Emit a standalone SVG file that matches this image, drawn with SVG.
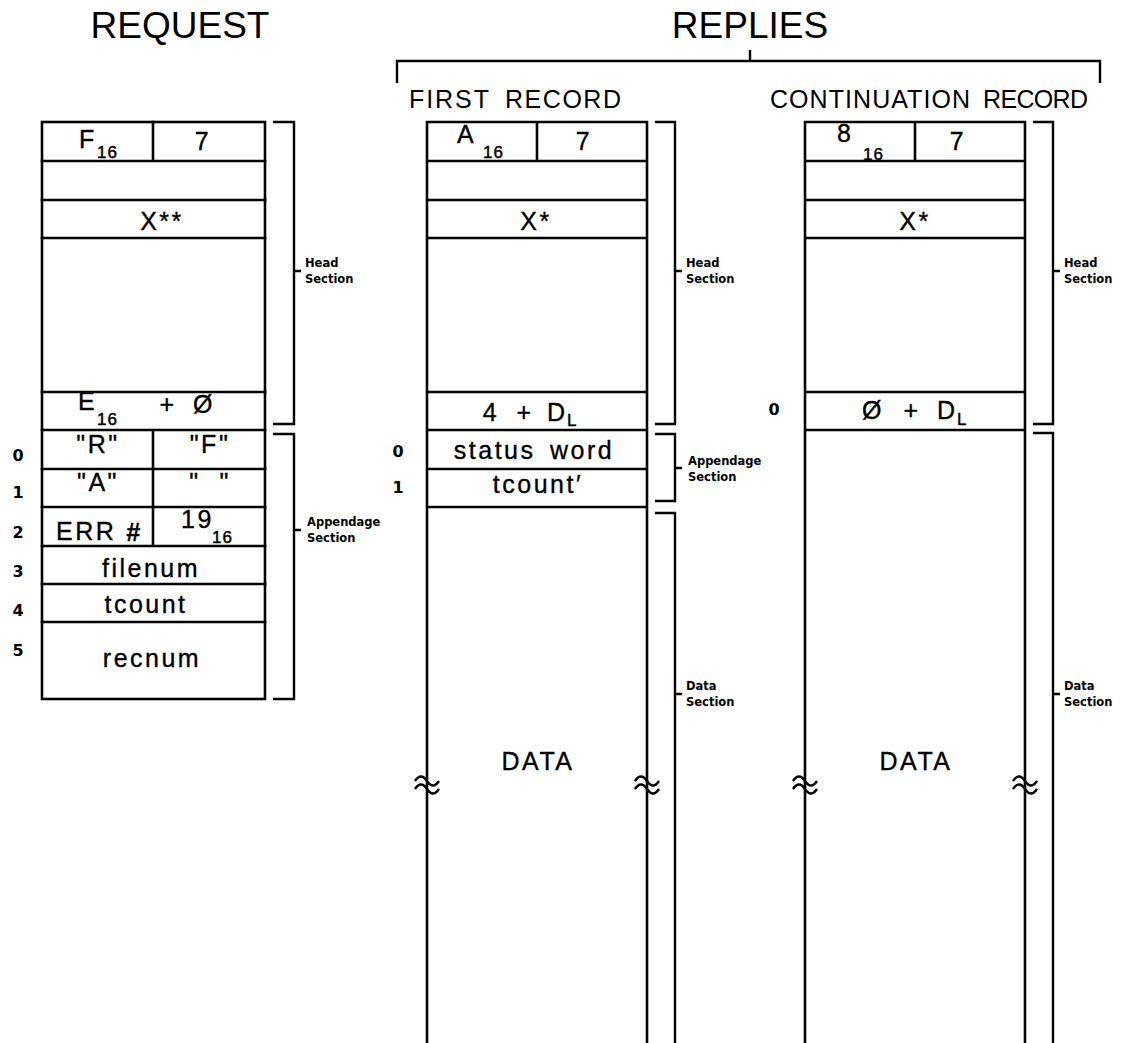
<svg xmlns="http://www.w3.org/2000/svg" width="1123" height="1043" viewBox="0 0 1123 1043">
<defs>
<style>
.ln{stroke:#000;stroke-width:2.6;fill:none;stroke-linecap:square}
.br{stroke:#000;stroke-width:2.4;fill:none}
.t{font-family:"Liberation Sans",Arial,sans-serif;font-size:25px;fill:#000;stroke:#000;stroke-width:0.35;letter-spacing:2.5px}
.m{text-anchor:middle}
.sub{font-family:"Liberation Sans",Arial,sans-serif;font-size:17px;fill:#000;stroke:#000;stroke-width:0.45;letter-spacing:1px}
.title{font-family:"Liberation Sans",Arial,sans-serif;font-size:37px;fill:#000;text-anchor:middle}
.rec{font-family:"Liberation Sans",Arial,sans-serif;font-size:25px;fill:#000}
.lab{font-family:"DejaVu Sans",sans-serif;font-size:11.5px;font-weight:bold;fill:#000}
.num{font-family:"DejaVu Sans",sans-serif;font-size:16px;font-weight:bold;fill:#000;text-anchor:middle}
</style>
<path id="brk" d="M-12,-2 c4,-6 8,-6 12,0 s8,6 12,0 M-12,6 c4,-6 8,-6 12,0 s8,6 12,0" stroke="#000" stroke-width="2.4" fill="none"/>
</defs>
<rect width="1123" height="1043" fill="#fff"/>

<g id="titles">
<text class="title" x="180" y="38">REQUEST</text>
<text class="title" x="750" y="38">REPLIES</text>
<text class="rec" x="409" y="108" textLength="80" lengthAdjust="spacing">FIRST</text>
<text class="rec" x="505" y="108" textLength="116" lengthAdjust="spacing">RECORD</text>
<text class="rec" x="770" y="108" textLength="200" lengthAdjust="spacing">CONTINUATION</text>
<text class="rec" x="983" y="108" textLength="105" lengthAdjust="spacing">RECORD</text>
</g>

<g id="request">
<rect class="ln" x="42" y="122" width="223" height="577"/>
<path class="ln" d="M42,161H265M42,200H265M42,238H265M42,392H265M42,430H265M42,469H265M42,507H265M42,546H265M42,584H265M42,622H265M153,122V161M153,430V546"/>
<text class="t" x="79" y="148">F</text><text class="sub" x="97" y="158">16</text>
<text class="t m" x="203" y="150">7</text>
<text class="t m" x="162" y="230">X**</text>
<text class="t" x="78" y="410">E</text><text class="sub" x="97" y="425">16</text>
<text class="t m" x="168" y="413">+</text>
<text class="t m" x="204" y="413">Ø</text>
<text class="t m" x="98" y="453">"R"</text>
<text class="t m" x="210" y="453">"F"</text>
<text class="t m" x="98" y="491">"A"</text>
<text class="t m" x="210" y="491">"&#160;&#160;"</text>
<text class="t" x="56" y="540" letter-spacing="1">ERR</text>
<text class="t" x="126" y="541" font-weight="bold" font-style="italic">#</text>
<text class="t" x="181" y="528">19</text><text class="sub" x="212" y="543">16</text>
<text class="t m" x="151" y="577">filenum</text>
<text class="t m" x="146" y="613">tcount</text>
<text class="t m" x="152" y="667">recnum</text>
<text class="num" x="18" y="461">0</text>
<text class="num" x="18" y="498">1</text>
<text class="num" x="18" y="538">2</text>
<text class="num" x="18" y="577">3</text>
<text class="num" x="18" y="616">4</text>
<text class="num" x="18" y="656">5</text>
<text class="lab" x="305" y="267">Head</text>
<text class="lab" x="305" y="283">Section</text>
<text class="lab" x="307" y="526">Appendage</text>
<text class="lab" x="307" y="542">Section</text>
</g>

<g id="first-record">
<path class="ln" d="M427,122V1043M647,122V1043M427,122H647M427,161H647M427,200H647M427,238H647M427,392H647M427,430H647M427,469H647M427,507H647M537,122V161"/>
<text class="t" x="457" y="143">A</text><text class="sub" x="483" y="158">16</text>
<text class="t m" x="584" y="150">7</text>
<text class="t m" x="536" y="230">X*</text>
<text class="t m" x="491" y="421">4</text>
<text class="t m" x="525" y="421">+</text>
<text class="t" x="547" y="421">D</text><text class="sub" x="567" y="426">L</text>
<text class="t m" x="534" y="459" word-spacing="5">status word</text>
<text class="t m" x="538" y="493">tcount′</text>
<text class="t m" x="538" y="770">DATA</text>
<text class="num" x="398" y="457">0</text>
<text class="num" x="398" y="493">1</text>
<use href="#brk" x="427" y="783"/>
<use href="#brk" x="647" y="783"/>
<text class="lab" x="686" y="267">Head</text>
<text class="lab" x="686" y="283">Section</text>
<text class="lab" x="688" y="465">Appendage</text>
<text class="lab" x="688" y="481">Section</text>
<text class="lab" x="686" y="690">Data</text>
<text class="lab" x="686" y="706">Section</text>
</g>

<g id="continuation-record">
<path class="ln" d="M805,122V1043M1025,122V1043M805,122H1025M805,161H1025M805,200H1025M805,238H1025M805,392H1025M805,430H1025M915,122V161"/>
<text class="t" x="837" y="142">8</text><text class="sub" x="863" y="160">16</text>
<text class="t m" x="958" y="150">7</text>
<text class="t m" x="915" y="230">X*</text>
<text class="t m" x="873" y="419">Ø</text>
<text class="t m" x="912" y="419">+</text>
<text class="t" x="937" y="419">D</text><text class="sub" x="957" y="425">L</text>
<text class="num" x="774" y="415">0</text>
<text class="t m" x="916" y="770">DATA</text>
<use href="#brk" x="805" y="783"/>
<use href="#brk" x="1025" y="783"/>
<text class="lab" x="1064" y="267">Head</text>
<text class="lab" x="1064" y="283">Section</text>
<text class="lab" x="1064" y="690">Data</text>
<text class="lab" x="1064" y="706">Section</text>
</g>

<g id="connectors">
<path class="br" d="M397,83V61H1100V83M750,61V50"/>
<path class="br" d="M273,122H294V424H273M294,271H301"/>
<path class="br" d="M273,434H294V699H273M294,530H301"/>
<path class="br" d="M655,122H675V424H655M675,271H682"/>
<path class="br" d="M655,434H675V501H655M675,468H682"/>
<path class="br" d="M655,513H675V1043M675,694H682"/>
<path class="br" d="M1033,122H1053V424H1033M1053,271H1060"/>
<path class="br" d="M1033,433H1053V1043M1053,694H1060"/>
</g>
</svg>
